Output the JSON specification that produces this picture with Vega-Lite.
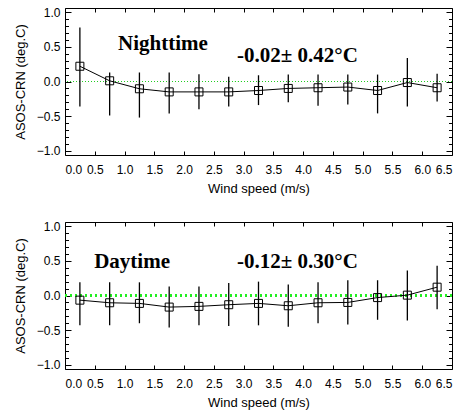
{
  "$schema": "https://vega.github.io/schema/vega-lite/v6.json",
  "background": "white",
  "padding": {"left": 13, "top": 5, "right": 5, "bottom": 5},
  "config": {
    "view": {"stroke": "black", "strokeWidth": 1},
    "font": "Liberation Sans",
    "axis": {"grid": false, "domain": false, "tickColor": "black", "labelColor": "black", "labelFont": "Liberation Sans", "labelFontSize": 12, "titleFont": "Liberation Sans", "titleFontSize": 13, "titleFontWeight": "normal", "titleColor": "black"}
  },
  "spacing": 23,
  "vconcat": [
    {
      "width": 387, "height": 147,
      "data": {"values": [
        {"x": 0.25, "y": 0.22, "lo": -0.36, "hi": 0.78},
        {"x": 0.75, "y": 0.01, "lo": -0.49, "hi": 0.13},
        {"x": 1.25, "y": -0.105, "lo": -0.52, "hi": 0.13},
        {"x": 1.75, "y": -0.15, "lo": -0.46, "hi": 0.13},
        {"x": 2.25, "y": -0.15, "lo": -0.40, "hi": 0.105},
        {"x": 2.75, "y": -0.15, "lo": -0.36, "hi": 0.07},
        {"x": 3.25, "y": -0.13, "lo": -0.34, "hi": 0.09},
        {"x": 3.75, "y": -0.10, "lo": -0.30, "hi": 0.10},
        {"x": 4.25, "y": -0.09, "lo": -0.35, "hi": 0.10},
        {"x": 4.75, "y": -0.08, "lo": -0.33, "hi": 0.10},
        {"x": 5.25, "y": -0.13, "lo": -0.46, "hi": 0.10},
        {"x": 5.75, "y": -0.015, "lo": -0.36, "hi": 0.34},
        {"x": 6.25, "y": -0.09, "lo": -0.29, "hi": 0.11}
      ]},
      "resolve": {"axis": {"x": "independent", "y": "independent"}},
      "layer": [
        {
          "mark": {"type": "rule", "color": "#22cc22", "strokeDash": [1, 2], "strokeWidth": 1},
          "encoding": {"y": {"datum": 0, "type": "quantitative", "scale": {"domain": [-1.06, 1.06], "nice": false}, "axis": null}}
        },
        {
          "mark": {"type": "rule", "color": "black", "strokeWidth": 1.3},
          "encoding": {
            "x": {"field": "x", "type": "quantitative", "scale": {"domain": [0, 6.5], "nice": false},
              "axis": {"orient": "bottom", "values": [0, 0.5, 1, 1.5, 2, 2.5, 3, 3.5, 4, 4.5, 5, 5.5, 6, 6.5], "format": ".1f", "tickSize": -4, "labelPadding": 13, "title": "Wind speed (m/s)", "titlePadding": 7}},
            "y": {"field": "lo", "type": "quantitative", "scale": {"domain": [-1.06, 1.06], "nice": false},
              "axis": {"orient": "left", "values": [-1, -0.9, -0.8, -0.7, -0.6, -0.5, -0.4, -0.3, -0.2, -0.1, 0, 0.1, 0.2, 0.3, 0.4, 0.5, 0.6, 0.7, 0.8, 0.9, 1],
                "labelExpr": "abs(datum.value*2-round(datum.value*2))<0.001 ? format(datum.value, '.1f') : ''",
                "tickSize": {"condition": {"test": "abs(datum.value*2-round(datum.value*2))<0.001", "value": -6}, "value": -3.5},
                "labelPadding": 11, "title": "ASOS-CRN (deg.C)", "titlePadding": 9}},
            "y2": {"field": "hi"}
          }
        },
        {
          "mark": {"type": "line", "color": "black", "strokeWidth": 1},
          "encoding": {
            "x": {"field": "x", "type": "quantitative", "scale": {"domain": [0, 6.5], "nice": false},
              "axis": {"orient": "top", "values": [0, 0.5, 1, 1.5, 2, 2.5, 3, 3.5, 4, 4.5, 5, 5.5, 6, 6.5], "labels": false, "tickSize": -4, "title": null}},
            "y": {"field": "y", "type": "quantitative", "scale": {"domain": [-1.06, 1.06], "nice": false},
              "axis": {"orient": "right", "values": [-1, -0.9, -0.8, -0.7, -0.6, -0.5, -0.4, -0.3, -0.2, -0.1, 0, 0.1, 0.2, 0.3, 0.4, 0.5, 0.6, 0.7, 0.8, 0.9, 1], "labels": false,
                "tickSize": {"condition": {"test": "abs(datum.value*2-round(datum.value*2))<0.001", "value": -6}, "value": -3.5}, "title": null}}
          }
        },
        {
          "mark": {"type": "point", "shape": "square", "filled": false, "stroke": "black", "strokeWidth": 1, "size": 64, "opacity": 1},
          "encoding": {
            "x": {"field": "x", "type": "quantitative", "axis": null},
            "y": {"field": "y", "type": "quantitative", "axis": null}
          }
        },
        {
          "data": {"values": [
            {"x": 0.89, "y": 0.45, "label": "Nighttime"},
            {"x": 2.89, "y": 0.28, "label": "-0.02± 0.42°C"}
          ]},
          "mark": {"type": "text", "font": "Liberation Serif", "fontWeight": "bold", "fontSize": 21, "align": "left", "baseline": "alphabetic", "color": "black"},
          "encoding": {
            "x": {"field": "x", "type": "quantitative", "axis": null},
            "y": {"field": "y", "type": "quantitative", "axis": null},
            "text": {"field": "label"}
          }
        }
      ]
    },
    {
      "width": 387, "height": 147,
      "data": {"values": [
        {"x": 0.25, "y": -0.067, "lo": -0.43, "hi": 0.19},
        {"x": 0.75, "y": -0.105, "lo": -0.43, "hi": 0.19},
        {"x": 1.25, "y": -0.114, "lo": -0.40, "hi": 0.19},
        {"x": 1.75, "y": -0.167, "lo": -0.46, "hi": 0.13},
        {"x": 2.25, "y": -0.157, "lo": -0.43, "hi": 0.13},
        {"x": 2.75, "y": -0.133, "lo": -0.44, "hi": 0.18},
        {"x": 3.25, "y": -0.114, "lo": -0.43, "hi": 0.20},
        {"x": 3.75, "y": -0.148, "lo": -0.45, "hi": 0.157},
        {"x": 4.25, "y": -0.105, "lo": -0.40, "hi": 0.19},
        {"x": 4.75, "y": -0.10, "lo": -0.42, "hi": 0.22},
        {"x": 5.25, "y": -0.03, "lo": -0.35, "hi": 0.22},
        {"x": 5.75, "y": 0.005, "lo": -0.36, "hi": 0.36},
        {"x": 6.25, "y": 0.12, "lo": -0.20, "hi": 0.43}
      ]},
      "resolve": {"axis": {"x": "independent", "y": "independent"}},
      "layer": [
        {
          "mark": {"type": "rule", "color": "#22ee22", "strokeDash": [2, 3], "strokeWidth": 2},
          "encoding": {"y": {"datum": 0, "type": "quantitative", "scale": {"domain": [-1.06, 1.06], "nice": false}, "axis": null}}
        },
        {
          "mark": {"type": "rule", "color": "black", "strokeWidth": 1.3},
          "encoding": {
            "x": {"field": "x", "type": "quantitative", "scale": {"domain": [0, 6.5], "nice": false},
              "axis": {"orient": "bottom", "values": [0, 0.5, 1, 1.5, 2, 2.5, 3, 3.5, 4, 4.5, 5, 5.5, 6, 6.5], "format": ".1f", "tickSize": -4, "labelPadding": 13, "title": "Wind speed (m/s)", "titlePadding": 7}},
            "y": {"field": "lo", "type": "quantitative", "scale": {"domain": [-1.06, 1.06], "nice": false},
              "axis": {"orient": "left", "values": [-1, -0.9, -0.8, -0.7, -0.6, -0.5, -0.4, -0.3, -0.2, -0.1, 0, 0.1, 0.2, 0.3, 0.4, 0.5, 0.6, 0.7, 0.8, 0.9, 1],
                "labelExpr": "abs(datum.value*2-round(datum.value*2))<0.001 ? format(datum.value, '.1f') : ''",
                "tickSize": {"condition": {"test": "abs(datum.value*2-round(datum.value*2))<0.001", "value": -6}, "value": -3.5},
                "labelPadding": 11, "title": "ASOS-CRN (deg.C)", "titlePadding": 9}},
            "y2": {"field": "hi"}
          }
        },
        {
          "mark": {"type": "line", "color": "black", "strokeWidth": 1},
          "encoding": {
            "x": {"field": "x", "type": "quantitative", "scale": {"domain": [0, 6.5], "nice": false},
              "axis": {"orient": "top", "values": [0, 0.5, 1, 1.5, 2, 2.5, 3, 3.5, 4, 4.5, 5, 5.5, 6, 6.5], "labels": false, "tickSize": -4, "title": null}},
            "y": {"field": "y", "type": "quantitative", "scale": {"domain": [-1.06, 1.06], "nice": false},
              "axis": {"orient": "right", "values": [-1, -0.9, -0.8, -0.7, -0.6, -0.5, -0.4, -0.3, -0.2, -0.1, 0, 0.1, 0.2, 0.3, 0.4, 0.5, 0.6, 0.7, 0.8, 0.9, 1], "labels": false,
                "tickSize": {"condition": {"test": "abs(datum.value*2-round(datum.value*2))<0.001", "value": -6}, "value": -3.5}, "title": null}}
          }
        },
        {
          "mark": {"type": "point", "shape": "square", "filled": false, "stroke": "black", "strokeWidth": 1, "size": 64, "opacity": 1},
          "encoding": {
            "x": {"field": "x", "type": "quantitative", "axis": null},
            "y": {"field": "y", "type": "quantitative", "axis": null}
          }
        },
        {
          "data": {"values": [
            {"x": 0.49, "y": 0.40, "label": "Daytime"},
            {"x": 2.89, "y": 0.40, "label": "-0.12± 0.30°C"}
          ]},
          "mark": {"type": "text", "font": "Liberation Serif", "fontWeight": "bold", "fontSize": 21, "align": "left", "baseline": "alphabetic", "color": "black"},
          "encoding": {
            "x": {"field": "x", "type": "quantitative", "axis": null},
            "y": {"field": "y", "type": "quantitative", "axis": null},
            "text": {"field": "label"}
          }
        }
      ]
    }
  ]
}
